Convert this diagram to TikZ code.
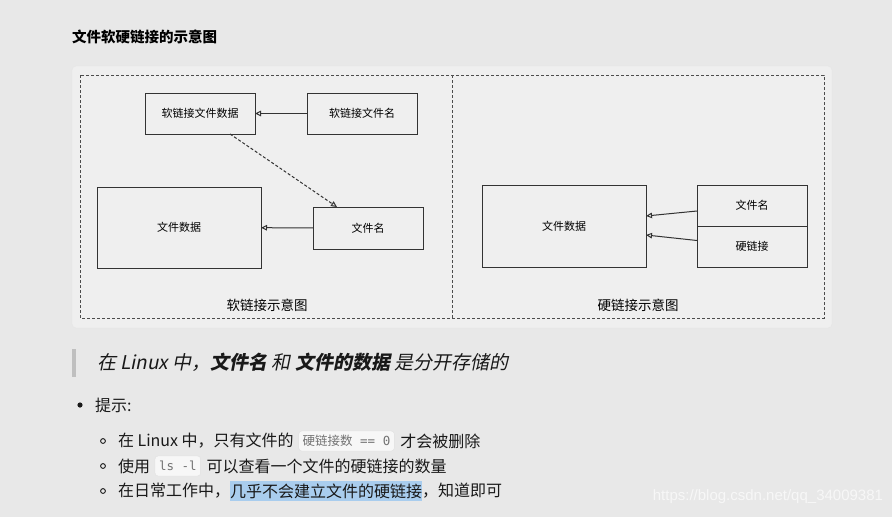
\documentclass[tikz,border=0pt]{standalone}
\usepackage{fontspec}
\setmainfont{Noto Sans CJK SC}
\newfontfamily\slantfont{Noto Sans CJK SC}[FakeSlant=0.2]
\newfontfamily\codefont{DejaVu Sans Mono}
\newfontfamily\wmfont{Liberation Sans}
\usetikzlibrary{arrows.meta,positioning}
\definecolor{pagebg}{HTML}{E8E8E8}
\definecolor{panelbg}{HTML}{EFEFEF}
\definecolor{hlblue}{HTML}{A9CDEE}

\begin{document}
\begin{tikzpicture}[x=1pt, y=-1pt, >=Stealth,
  every node/.style={inner sep=0pt, outer sep=0pt, font=\fontsize{11}{13}\selectfont},
  box/.style={draw=black!80, line width=1pt, minimum width=110pt, minimum height=41pt},
  link/.style={-{Triangle[open, length=6pt, width=5.5pt]}, line width=1pt, black!80},
  txt/.style={anchor=west, font=\fontsize{16}{19}\selectfont, text=black!90},
  code/.style={draw=black!12, fill=white!50!panelbg, rounded corners=3pt, inner xsep=4pt,
    minimum height=20pt, text=black!55, font=\fontsize{12.5}{14}\selectfont}]
  \fill[pagebg] (0,0) rectangle (892,517);
  \useasboundingbox (0,0) rectangle (892,517);

  % title
  \node[anchor=west, font=\bfseries\fontsize{14.5}{16}\selectfont] (title) at (72,37) {文件软硬链接的示意图};

  % panel with both frames
  \filldraw[fill=panelbg, draw=black!10, rounded corners=4pt] (72,66) rectangle (832,328);
  \draw[black!70, line width=0.9pt, dash pattern=on 3pt off 2pt] (80,75) rectangle (824,318)
    (452,75) -- (452,318);

  % Soft link
  \begin{scope}
    \node[box] (sfdata) at (200,113.5) {软链接文件数据};
    \node[box] (sfname) at (362,113.5) {软链接文件名};
    \node[box, minimum width=164pt, minimum height=81pt] (fdata) at (179,227.5) {文件数据};
    \node[box, minimum height=42pt] (fname) at (368,228) {文件名};
    \draw[link] (sfname) -- (sfdata);
    \draw[link] (fname) -- (fdata);
    \draw[link, dash pattern=on 3pt off 2pt] ([xshift=30pt]sfdata.south) -- ([xshift=-31pt]fname.north);
    \node[font=\fontsize{13.5}{15}\selectfont] (softcap) at (267,305) {软链接示意图};
  \end{scope}

  % Hard link
  \begin{scope}
    \node[box, minimum width=164pt, minimum height=82pt] (hdata) at (564,226) {文件数据};
    \node[box] (hname) at (752,205.5) {文件名};
    \node[box, below=0pt of hname] (hlink) {硬链接};
    \draw[link] ([yshift=-5.5pt]hname.west) -- ([yshift=10pt]hdata.east);
    \draw[link] ([yshift=6pt]hlink.west) -- ([yshift=-9pt]hdata.east);
    \node[font=\fontsize{13.5}{15}\selectfont] (hardcap) at (638,305) {硬链接示意图};
  \end{scope}

  % quote
  \fill[black!25] (72,349) rectangle (76,377);
  \node[anchor=west, font=\slantfont\fontsize{19}{22}\selectfont, text=black!90] (quote) at (97,362)
    {在 Linux 中，\textbf{文件名} 和 \textbf{文件的数据} 是分开存储的};

  % list
  \fill[black!90] (80,405) circle (2.6pt);
  \node[txt] (tips) at (95,405) {提示:};
  \foreach \y in {441,466,491}
    \draw[black!90, line width=0.9pt] (103,\y) circle (2.4pt);

  \node[txt] (l1a) at (118,441) {在 Linux 中，只有文件的};
  \node[code, right=5pt of l1a] (l1code) {硬链接数{\codefont\ == 0}};
  \node[txt, right=6pt of l1code] (l1b) {才会被删除};

  \node[txt] (l2a) at (118,466) {使用};
  \node[code, right=5pt of l2a] (l2code) {\codefont ls -l};
  \node[txt, right=6pt of l2code] (l2b) {可以查看一个文件的硬链接的数量};

  \node[txt] (l3a) at (118,491) {在日常工作中，};
  \node[txt, fill=hlblue, inner ysep=3pt, right=0pt of l3a] (l3hl) {几乎不会建立文件的硬链接};
  \node[txt, right=0pt of l3hl] (l3b) {，知道即可};

  % watermark
  \node[anchor=east, text=white!97!black, font=\wmfont\fontsize{15}{17}\selectfont] (mark) at (883,497)
    {https://blog.csdn.net/qq\_34009381};
\end{tikzpicture}
\end{document}
